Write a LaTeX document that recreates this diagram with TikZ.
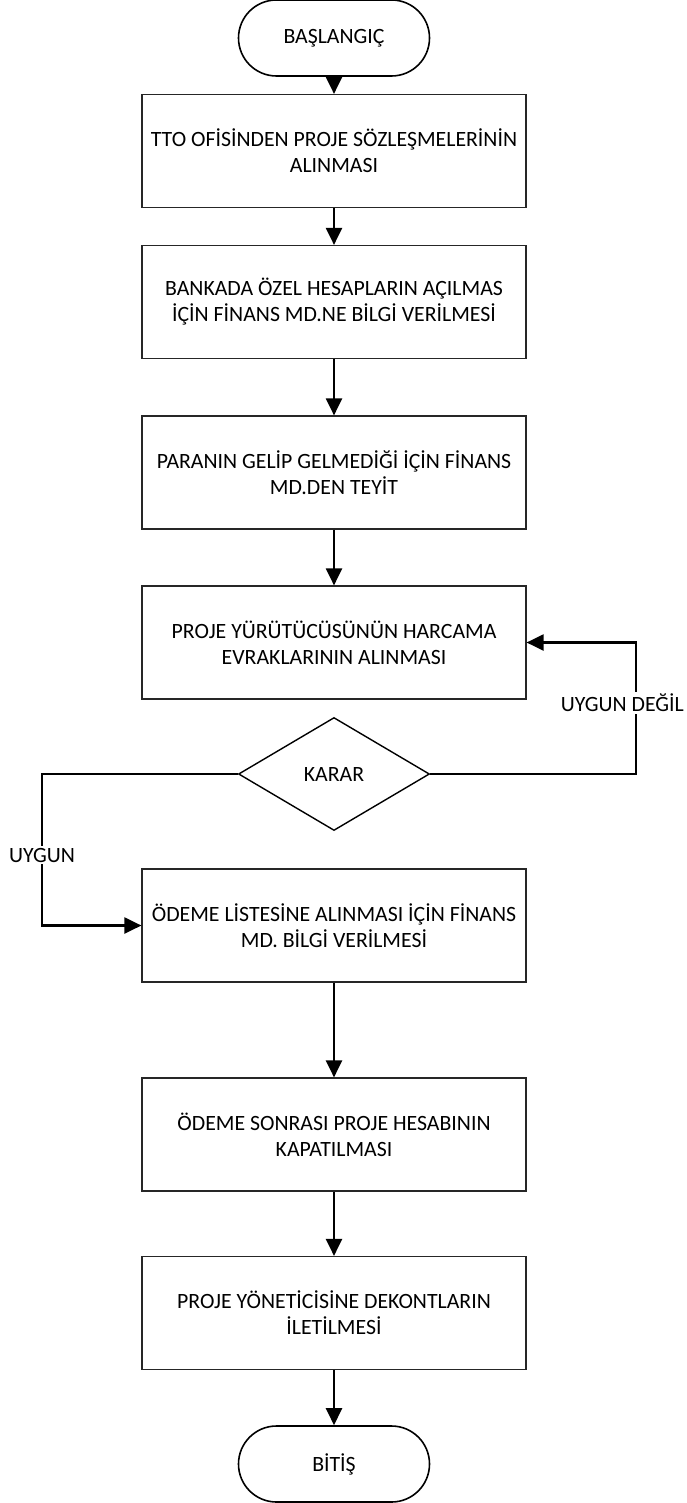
\documentclass[tikz,border=0pt]{standalone}
\usepackage{fontspec}
\setmainfont{Carlito}
\usetikzlibrary{shapes.geometric,arrows.meta}

\begin{document}
\begin{tikzpicture}[x=1pt, y=-1pt,
  every node/.style={font=\fontsize{21.8}{26}\selectfont, align=center, inner sep=0pt},
  box/.style={draw=black!85, line width=1.2pt, minimum width=384pt, minimum height=113pt},
  term/.style={draw, line width=1.6pt, rounded corners=38pt, minimum width=191pt, minimum height=76pt},
  dec/.style={draw, line width=1.4pt, diamond, aspect=1.69, minimum width=191pt, minimum height=113pt},
  arr/.style={line width=2.2pt, -{Triangle[length=17pt, width=16pt]}},
  lab/.style={fill=white, inner sep=2pt}]
\useasboundingbox (0,0) rectangle (687,1503);
\node[term] (N0) at (334,38) {BAŞLANGIÇ};
\node[box] (N1) at (334,151) {TTO OFİSİNDEN PROJE SÖZLEŞMELERİNİN\\ALINMASI};
\node[box] (N2) at (334,302) {BANKADA ÖZEL HESAPLARIN AÇILMAS\\İÇİN FİNANS MD.NE BİLGİ VERİLMESİ};
\node[box] (N3) at (334,472.5) {PARANIN GELİP GELMEDİĞİ İÇİN FİNANS\\MD.DEN TEYİT};
\node[box] (N4) at (334,642.5) {PROJE YÜRÜTÜCÜSÜNÜN HARCAMA\\EVRAKLARININ ALINMASI};
\node[dec] (N5) at (334,774) {KARAR};
\node[box] (N6) at (334,925.5) {ÖDEME LİSTESİNE ALINMASI İÇİN FİNANS\\MD. BİLGİ VERİLMESİ};
\node[box] (N7) at (334,1134.5) {ÖDEME SONRASI PROJE HESABININ\\KAPATILMASI};
\node[box] (N8) at (334,1313) {PROJE YÖNETİCİSİNE DEKONTLARIN\\İLETİLMESİ};
\node[term] (N9) at (334,1464) {BİTİŞ};
\draw[arr] (N0) -- (N1);
\draw[arr] (N1) -- (N2);
\draw[arr] (N2) -- (N3);
\draw[arr] (N3) -- (N4);
\draw[arr] (N6) -- (N7);
\draw[arr] (N7) -- (N8);
\draw[arr] (N8) -- (N9);
\draw[arr] (N5.east) -- ++(206,0) |- (N4.east);
\draw[arr] (N5.west) -- ++(-196,0) |- (N6.west);
\node[lab, anchor=east] (L1) at (686,703) {UYGUN DEĞİL};
\node[lab] (L2) at (42,855) {UYGUN};
\end{tikzpicture}
\end{document}
